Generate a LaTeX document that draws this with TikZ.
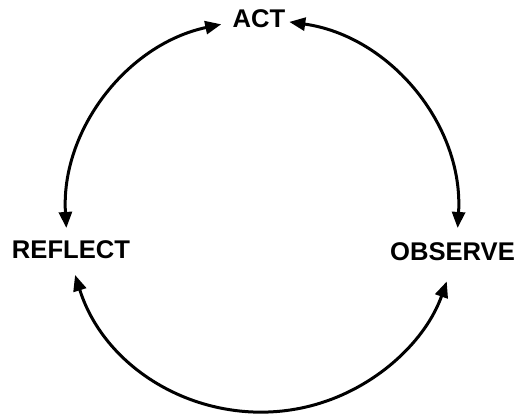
\documentclass[tikz,border=0pt]{standalone}
\usepackage{fontspec}
\setmainfont{Liberation Sans}
\usetikzlibrary{arrows.meta}
\begin{document}
\begin{tikzpicture}[x=1pt,y=1pt,
  lbl/.style={font=\fontsize{25.6}{30}\selectfont\bfseries, inner sep=0pt},
  cyc/.style={line width=3pt, {Triangle[length=16pt,width=13pt]}-{Triangle[length=16pt,width=13pt]}}]
\useasboundingbox (0,0) rectangle (522,416);
\node[lbl] (act) at (259,397.5) {ACT};
\node[lbl] (reflect) at (71,166) {REFLECT};
\node[lbl] (observe) at (452.5,164) {OBSERVE};
\coordinate (c) at (262,200);
\coordinate (a1) at ([shift={(102:196)}]c);
\coordinate (a2) at ([shift={(82:196)}]c);
\coordinate (b1) at ([shift={(197.5:196)}]c);
\draw[cyc] (a1) arc[start angle=102, end angle=183.5, radius=196];
\draw[cyc] (a2) arc[start angle=82, end angle=-3.5, radius=196];
\draw[cyc] (b1) arc[start angle=197.5, end angle=340.5, radius=196];
\end{tikzpicture}
\end{document}
